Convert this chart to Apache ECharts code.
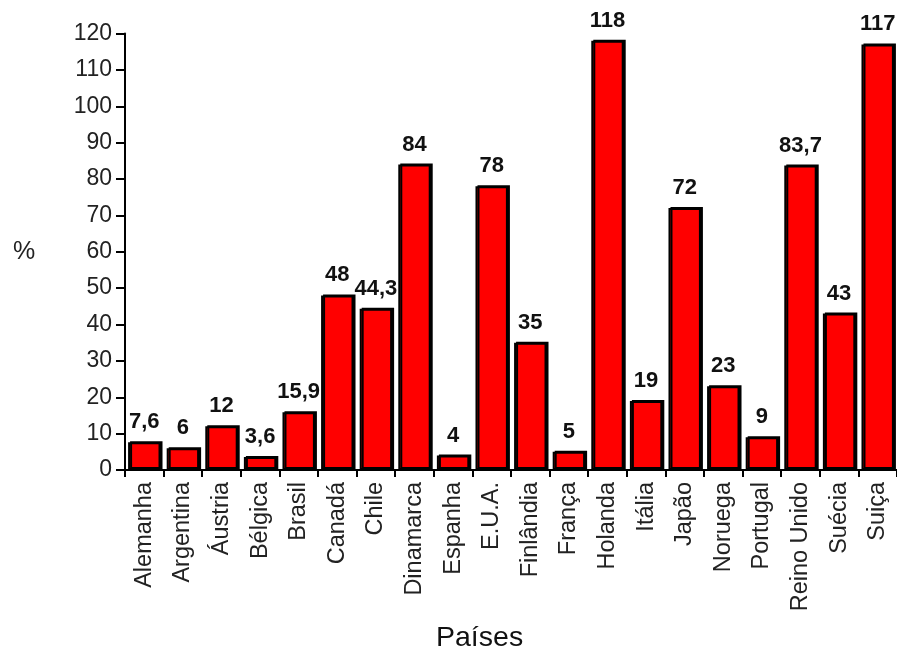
<!DOCTYPE html>
<html><head><meta charset="utf-8">
<script src="https://cdn.jsdelivr.net/npm/echarts@6/dist/echarts.min.js"></script>
<style>html,body{margin:0;padding:0;background:#fff}#c{width:897px;height:650px}</style>
</head><body><div id="c"></div>
<script>
const categories = ['Alemanha','Argentina','Áustria','Bélgica','Brasil','Canadá','Chile','Dinamarca','Espanha','E.U.A.','Finlândia','França','Holanda','Itália','Japão','Noruega','Portugal','Reino Unido','Suécia','Suiça'];
const values = [7.6, 6, 12, 3.6, 15.9, 48, 44.3, 84, 4, 78, 35, 5, 118, 19, 72, 23, 9, 83.7, 43, 117];
const yTicks = [0,10,20,30,40,50,60,70,80,90,100,110,120];

const chart = echarts.init(document.getElementById('c'));
const font = 'Liberation Sans, Arial, sans-serif';
chart.setOption({
  animation: false,
  grid: {left: 125, right: -2, top: 33.5, bottom: 180, containLabel: false},
  xAxis: {
    type: 'category', data: categories,
    axisLine: {lineStyle: {color: '#000', width: 2}},
    axisTick: {show: true, length: 7, lineStyle: {color: '#000', width: 2}},
    axisLabel: {rotate: 90, fontSize: 23.5, color: '#222', fontFamily: font, margin: 12, interval: 0}
  },
  yAxis: {
    type: 'value', min: yTicks[0], max: yTicks[yTicks.length-1], interval: 10,
    splitLine: {show: false},
    axisLine: {show: true, lineStyle: {color: '#000', width: 2}},
    axisTick: {show: true, length: 9, lineStyle: {color: '#000', width: 2}},
    axisLabel: {fontSize: 23, color: '#222', fontFamily: font, margin: 13}
  },
  series: [{
    type: 'bar', data: values, barWidth: '84%',
    itemStyle: {color: '#ff0000', borderColor: '#000', borderWidth: 2,
      shadowColor: '#000', shadowBlur: 0, shadowOffsetX: 2, shadowOffsetY: -1},
    label: {show: true, position: 'top', distance: 9, fontSize: 22, fontWeight: 'bold',
      color: '#111', fontFamily: font,
      formatter: p => String(p.value).replace('.', ',')}
  }],
  graphic: [
    {type: 'text', left: 13, top: 240, style: {text: '%', font: '25px ' + font, fill: '#222'}},
    {type: 'text', left: 436, top: 624, style: {text: 'Países', font: '28.5px ' + font, fill: '#111'}}
  ]
});
</script></body></html>
